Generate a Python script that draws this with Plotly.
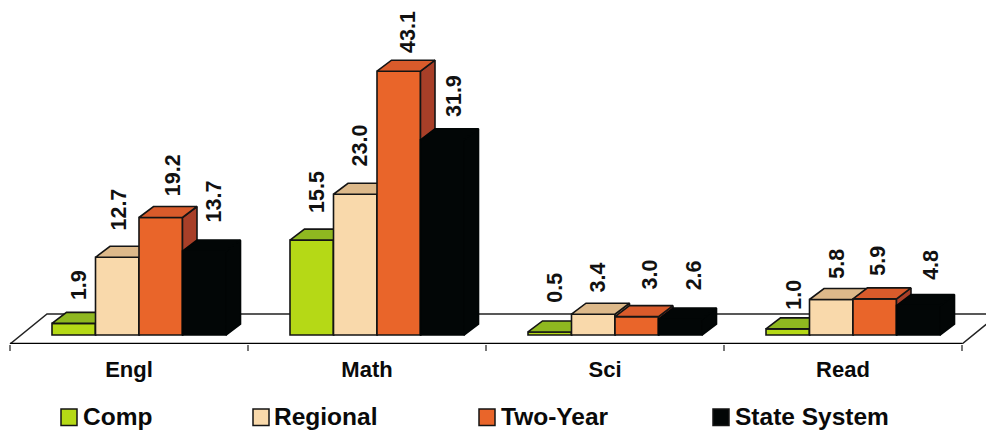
import plotly.graph_objects as go

# Chart data
categories = ["Engl", "Math", "Sci", "Read"]
comp = [1.9, 15.5, 0.5, 1.0]
regional = [12.7, 23.0, 3.4, 5.8]
two_year = [19.2, 43.1, 3.0, 5.9]
state_system = [13.7, 31.9, 2.6, 4.8]

series_names = ["Comp", "Regional", "Two-Year", "State System"]
series_values = [comp, regional, two_year, state_system]

# Face colours per series: front, top, side, outline
front_colors = ["#B5D916", "#F9D9AB", "#E9652A", "#020606"]
top_colors = ["#8FB820", "#DDB98A", "#D95B2B", "#020606"]
side_colors = ["#6F8F18", "#B9966A", "#A83F28", "#020606"]
edge_colors = ["#141414", "#141414", "#141414", "#020606"]

# Hand placement of the rotated value labels (px right of bar centre, px above bar top)
label_right = [[6, 5, 5, 6], [2, 5, 5, 5], [12, 9, 13, 3], [10, 12, 14, 12]]
label_lift = [[21, 25, 27, 17], [25, 26, 20, 19], [19, 16, 25, 21], [27, 21, 27, 24]]

# Scale of the plot area, in px
PX_PER_GROUP = 238.0
PX_PER_UNIT = 6.12
WIDTH, HEIGHT = 986, 430
AXIS_BOTTOM, AXIS_TOP = 344, 20
ZERO_PX = 335

x_lo = -0.5 - 10 / PX_PER_GROUP
x_hi = x_lo + WIDTH / PX_PER_GROUP
y_lo = -(AXIS_BOTTOM - ZERO_PX) / PX_PER_UNIT
y_hi = (ZERO_PX - AXIS_TOP) / PX_PER_UNIT

bar_w = 43.5 / PX_PER_GROUP
group_shift = 10 / PX_PER_GROUP
depth_x = 14.5 / PX_PER_GROUP
depth_y = 11 / PX_PER_UNIT
floor_back = 21 / PX_PER_UNIT
floor_skew = 37 / PX_PER_GROUP

FONT = "Liberation Sans"

fig = go.Figure()

# Floor of the chart, drawn beneath everything on the base y axis
fig.add_trace(go.Scatter(
    x=[-0.5, 3.5, 3.5 + floor_skew, -0.5 + floor_skew, -0.5],
    y=[y_lo, y_lo, floor_back, floor_back, y_lo],
    mode="lines", fill="toself", fillcolor="white",
    line=dict(color="#222222", width=1.5), hoverinfo="skip", showlegend=False,
))
fig.add_trace(go.Scatter(
    x=[-0.5, 3.5], y=[y_lo, y_lo], mode="lines",
    line=dict(color="black", width=2.5), hoverinfo="skip", showlegend=False,
))

# Each series lives on its own overlaid y axis so later series stack in front of earlier ones
annotations = []
for s, (name, values) in enumerate(zip(series_names, series_values)):
    yref = f"y{s + 2}"
    edge = edge_colors[s]
    xs = [i + group_shift + (s - 1.5) * bar_w for i in range(len(values))]
    fig.add_trace(go.Bar(
        x=xs, y=values, width=bar_w, name=name, yaxis=yref,
        marker=dict(color=front_colors[s], line=dict(color=edge, width=1.6)),
        showlegend=False,
    ))
    for i, (xc, v) in enumerate(zip(xs, values)):
        x0, x1 = xc - bar_w / 2, xc + bar_w / 2
        fig.add_trace(go.Scatter(
            x=[x1, x1 + depth_x, x1 + depth_x, x1, x1],
            y=[v, v + depth_y, depth_y, 0, v],
            yaxis=yref, mode="lines", fill="toself", fillcolor=side_colors[s],
            line=dict(color=edge, width=1.6), hoverinfo="skip", showlegend=False,
        ))
        fig.add_trace(go.Scatter(
            x=[x0, x1, x1 + depth_x, x0 + depth_x, x0],
            y=[v, v, v + depth_y, v + depth_y, v],
            yaxis=yref, mode="lines", fill="toself", fillcolor=top_colors[s],
            line=dict(color=edge, width=1.6), hoverinfo="skip", showlegend=False,
        ))
        annotations.append(dict(
            x=xc, y=v, xref="x", yref="y", text=f"<b>{v:.1f}</b>", textangle=-90,
            showarrow=False, xanchor="center", yanchor="bottom",
            xshift=label_right[s][i], yshift=label_lift[s][i],
            font=dict(family=FONT, size=21.5, color="#111111"),
        ))

# Hand-built legend row
swatch_left = [61, 253, 479, 713]
text_left = [83, 274, 501, 735]
LEGEND_MID = 417
plot_h = AXIS_BOTTOM - AXIS_TOP
shapes = []
for s, name in enumerate(series_names):
    shapes.append(dict(
        type="rect", xref="paper", yref="paper",
        x0=swatch_left[s] / WIDTH, x1=(swatch_left[s] + 16) / WIDTH,
        y0=(AXIS_BOTTOM - (LEGEND_MID + 8.5)) / plot_h, y1=(AXIS_BOTTOM - (LEGEND_MID - 8)) / plot_h,
        fillcolor=front_colors[s], line=dict(color="#141414", width=1.5),
    ))
    annotations.append(dict(
        x=text_left[s] / WIDTH, y=(AXIS_BOTTOM - LEGEND_MID) / plot_h,
        xref="paper", yref="paper", text=f"<b>{name}</b>", showarrow=False,
        xanchor="left", yanchor="middle", xshift=-2,
        font=dict(family=FONT, size=24.5, color="#0A0A0A"),
    ))

overlay_axis = dict(range=[y_lo, y_hi], visible=False, overlaying="y", fixedrange=True)

fig.update_layout(
    width=WIDTH, height=HEIGHT,
    margin=dict(l=0, r=0, t=AXIS_TOP, b=HEIGHT - AXIS_BOTTOM),
    paper_bgcolor="white", plot_bgcolor="white",
    barmode="overlay", showlegend=False,
    annotations=annotations, shapes=shapes,
    xaxis=dict(
        range=[x_lo, x_hi], tickmode="array", tickvals=list(range(len(categories))),
        ticktext=[f"<b>{c}</b>" for c in categories], ticks="", showgrid=False,
        zeroline=False, showline=False, ticklabelstandoff=10,
        tickfont=dict(family=FONT, size=22, color="#0A0A0A"),
        minor=dict(tickmode="array", tickvals=[-0.5, 0.5, 1.5, 2.5, 3.5], ticks="outside",
                   ticklen=6, tickwidth=1.5, tickcolor="#777777", showgrid=False),
    ),
    yaxis=dict(range=[y_lo, y_hi], visible=False, fixedrange=True),
    yaxis2=overlay_axis, yaxis3=overlay_axis, yaxis4=overlay_axis, yaxis5=overlay_axis,
)

fig.write_html("out.html", config={"displayModeBar": False})
